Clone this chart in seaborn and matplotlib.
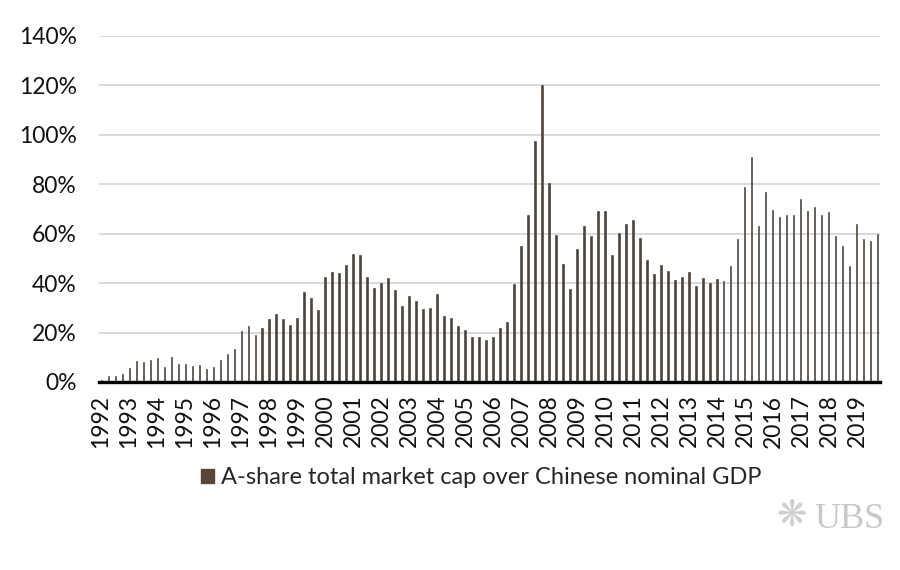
import matplotlib
matplotlib.use("Agg")
import matplotlib.pyplot as plt
from matplotlib.patches import Patch
import seaborn as sns
import pandas as pd

years = list(range(1992, 2020))
quarters = ["Q1", "Q2", "Q3", "Q4"]

ratio_pct = [
    1.0, 2.4, 2.4, 3.4,        # 1992
    5.5, 8.6, 8.1, 8.9,        # 1993
    9.7, 6.2, 10.0, 7.1,       # 1994
    7.4, 6.6, 6.9, 5.3,        # 1995
    5.9, 9.0, 11.3, 13.2,      # 1996
    20.6, 22.6, 19.1, 21.7,    # 1997
    25.5, 27.5, 25.5, 22.9,    # 1998
    25.7, 36.5, 33.9, 29.0,    # 1999
    42.4, 44.6, 44.0, 47.4,    # 2000
    51.6, 51.2, 42.4, 38.0,    # 2001
    40.0, 42.0, 37.3, 30.7,    # 2002
    35.0, 32.7, 29.5, 30.0,    # 2003
    35.8, 26.9, 26.0, 22.6,    # 2004
    21.1, 18.2, 18.4, 16.8,    # 2005
    18.2, 21.7, 24.4, 39.8,    # 2006
    54.9, 67.6, 97.7, 120.2,   # 2007
    80.6, 59.5, 47.8, 37.6,    # 2008
    54.0, 63.3, 59.1, 69.3,    # 2009
    69.0, 51.4, 60.3, 63.8,    # 2010
    65.5, 58.4, 49.3, 43.6,    # 2011
    47.2, 44.8, 41.1, 42.4,    # 2012
    44.4, 38.7, 42.0, 40.0,    # 2013
    41.8, 40.7, 47.1, 57.9,    # 2014
    78.7, 91.2, 63.2, 76.8,    # 2015
    69.5, 66.9, 67.7, 67.7,    # 2016
    73.9, 69.1, 71.0, 67.7,    # 2017
    68.8, 59.0, 55.0, 47.1,    # 2018
    64.1, 57.8, 57.2, 59.7,    # 2019
]

y_ticks = [0, 20, 40, 60, 80, 100, 120, 140]
series_label = "A-share total market cap over Chinese nominal GDP"

period = [f"{y}{q}" for y in years for q in quarters]
df = pd.DataFrame({"period": period, "ratio": ratio_pct})

sns.set_theme(style="white")
plt.rcParams["font.family"] = ["Lato", "DejaVu Sans"]

fig = plt.figure(figsize=(9, 5.7), dpi=100)
ax = fig.add_axes([99 / 900, 188 / 570, 781 / 900, (382 - 36) / 570])

bar_color = "#4a423c"
legend_color = "#5a4636"
sns.barplot(data=df, x="period", y="ratio", order=period, color=bar_color,
            width=0.16, saturation=1, edgecolor=bar_color, linewidth=0.45, ax=ax)

ax.set_ylim(0, 140)
ax.set_xlim(-0.3, len(period) - 0.7)
ax.set_yticks(y_ticks)
ax.set_yticklabels([f"{v}%" for v in y_ticks], fontsize=16.5, color="#111111")
ax.set_xticks(range(0, len(period), 4))
ax.set_xticklabels([str(y) for y in years], rotation=90, fontsize=16.5, color="#111111")
ax.tick_params(axis="y", length=0, pad=16)
ax.tick_params(axis="x", length=0, pad=9)
ax.set_xlabel("")
ax.set_ylabel("")

ax.grid(axis="y", color="#d9d9d9", linewidth=1.4)
ax.grid(axis="x", visible=False)
ax.set_axisbelow(True)
for side in ["top", "right", "left"]:
    ax.spines[side].set_visible(False)
ax.spines["bottom"].set_color("black")
ax.spines["bottom"].set_linewidth(2.4)

handle = Patch(facecolor=legend_color, edgecolor=legend_color)
ax.legend([handle], [series_label], loc="center",
          bbox_to_anchor=(0.49, (92 - 188) / 346), bbox_transform=ax.transAxes,
          frameon=False, fontsize=17, handlelength=0.55, handleheight=0.55,
          handletextpad=0.3, borderpad=0)

fig.text(0.88, 0.095, "❋", fontsize=26, color="#cfcfcf", ha="center", va="center",
         family=["DejaVu Sans"])
fig.text(0.944, 0.089, "UBS", fontsize=26, color="#c8c8c8", ha="center", va="center",
         family=["Liberation Serif"])

fig.savefig("out.png", dpi=100)
